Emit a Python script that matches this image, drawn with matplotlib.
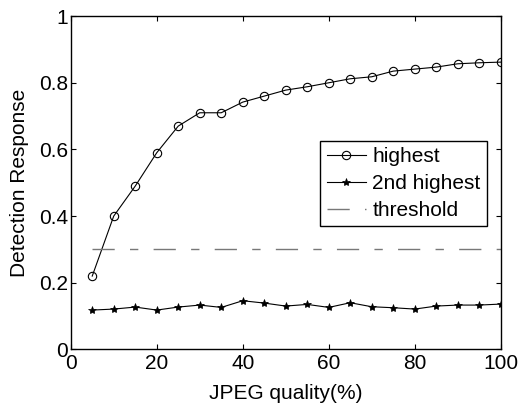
import matplotlib
matplotlib.use("Agg")
import matplotlib.pyplot as plt

plt.rcParams['font.family'] = ['Liberation Sans', 'DejaVu Sans']

quality = [5, 10, 15, 20, 25, 30, 35, 40, 45, 50, 55, 60, 65, 70, 75, 80, 85, 90, 95, 100]
highest = [0.22, 0.40, 0.49, 0.59, 0.67, 0.71, 0.71, 0.742, 0.76, 0.778, 0.788, 0.80,
           0.812, 0.818, 0.835, 0.841, 0.847, 0.857, 0.860, 0.862]
second = [0.118, 0.121, 0.127, 0.118, 0.127, 0.133, 0.126, 0.146, 0.139, 0.130, 0.135,
          0.126, 0.140, 0.128, 0.125, 0.121, 0.130, 0.133, 0.133, 0.136]
threshold = [0.30] * len(quality)
xticks = [0, 20, 40, 60, 80, 100]
yticks = [0, 0.2, 0.4, 0.6, 0.8, 1]
yticklabels = ['0', '0.2', '0.4', '0.6', '0.8', '1']

fig = plt.figure(figsize=(5.2, 4.03), dpi=100)
ax = fig.add_axes([0.136, 0.133, 0.827, 0.827])

ax.plot(quality, highest, '-o', color='black', lw=0.8, markersize=6,
        markerfacecolor='none', markeredgewidth=0.8, label='highest')
ax.plot(quality, second, '-*', color='black', lw=0.8, markersize=6,
        markeredgewidth=0.5, label='2nd highest')
ax.plot(quality, threshold, color='#787878', lw=1.0, dashes=(16, 11, 6, 11),
        label='threshold')

ax.set_xlim(0, 100)
ax.set_ylim(0, 1)
ax.set_xticks(xticks)
ax.set_yticks(yticks)
ax.set_yticklabels(yticklabels)
ax.tick_params(direction='in', top=True, right=True, length=3.5, width=0.8,
               labelsize=15)
ax.tick_params(axis='y', pad=2)
ax.tick_params(axis='x', pad=3.5)
for s in ax.spines.values():
    s.set_linewidth(1.0)

ax.set_xlabel('JPEG quality(%)', fontsize=15, labelpad=8)
ax.set_ylabel('Detection Response', fontsize=15, labelpad=7)

leg = ax.legend(loc='upper right', bbox_to_anchor=(0.968, 0.625), fontsize=15,
                frameon=True, fancybox=False, edgecolor='black', framealpha=1,
                borderaxespad=0, handlelength=1.9, handletextpad=0.3,
                labelspacing=0.38, borderpad=0.3)
leg.get_frame().set_linewidth(1.0)

fig.savefig('out.png', dpi=100)
